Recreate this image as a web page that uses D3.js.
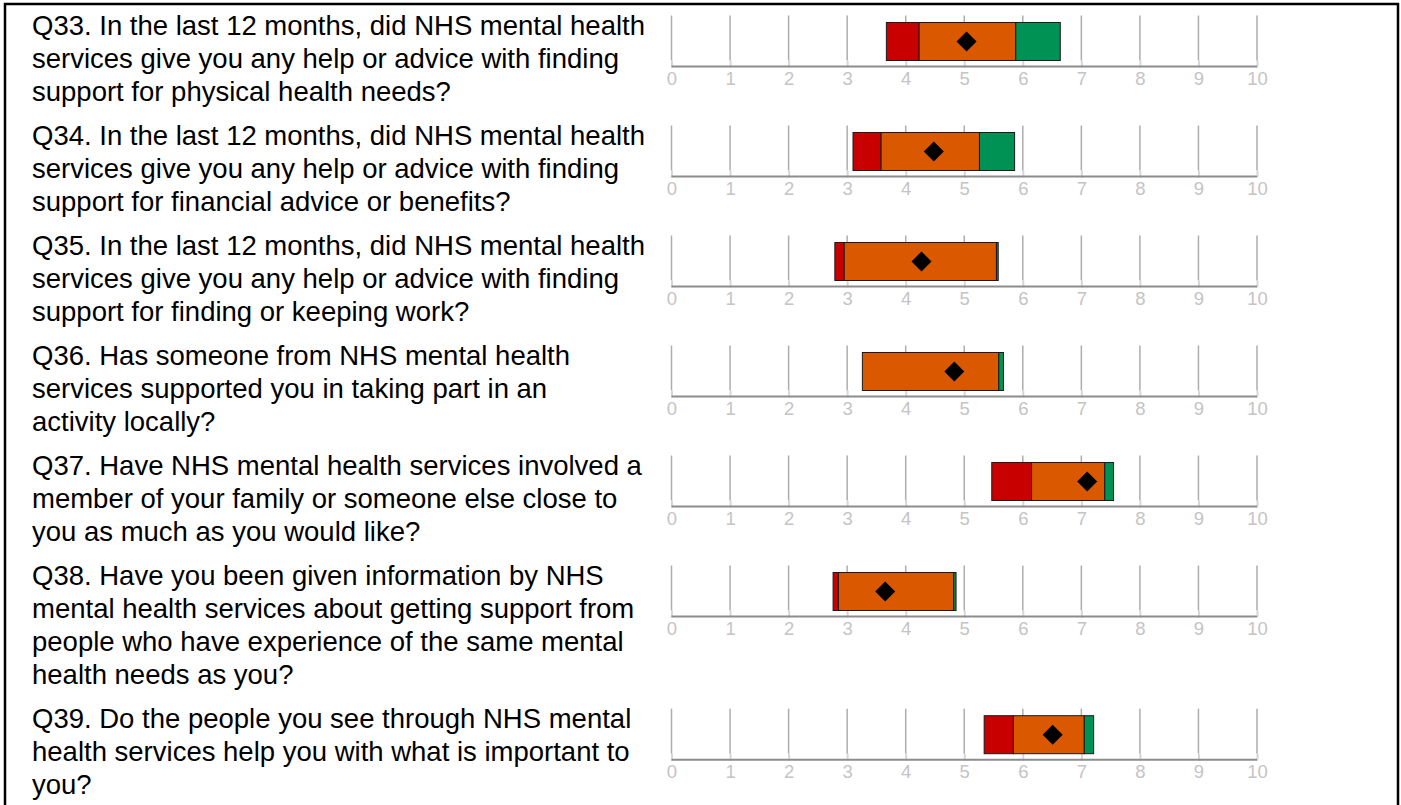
<!DOCTYPE html>
<html>
<head>
<meta charset="utf-8">
<script src="https://cdn.jsdelivr.net/npm/d3@7"></script>
<style>
  body { margin: 0; background: #fff; }
  svg text { font-family: "Liberation Sans", Arial, sans-serif; }
</style>
</head>
<body>
<div id="main-chart"></div>
<script>
// question text, one entry per row (already wrapped like the original)
var questions = [
  ["Q33. In the last 12 months, did NHS mental health", "services give you any help or advice with finding", "support for physical health needs?"],
  ["Q34. In the last 12 months, did NHS mental health", "services give you any help or advice with finding", "support for financial advice or benefits?"],
  ["Q35. In the last 12 months, did NHS mental health", "services give you any help or advice with finding", "support for finding or keeping work?"],
  ["Q36. Has someone from NHS mental health", "services supported you in taking part in an", "activity locally?"],
  ["Q37. Have NHS mental health services involved a", "member of your family or someone else close to", "you as much as you would like?"],
  ["Q38. Have you been given information by NHS", "mental health services about getting support from", "people who have experience of the same mental", "health needs as you?"],
  ["Q39. Do the people you see through NHS mental", "health services help you with what is important to", "you?"]
];

// band edges on the 0-10 scale
var lowerBound = [3.67, 3.10, 2.79, 3.26, 5.47, 2.76, 5.34];
var worseUpper = [4.23, 3.58, 2.95, 3.26, 6.15, 2.85, 5.84];
var sameUpper  = [5.88, 5.26, 5.55, 5.59, 7.40, 4.82, 7.05];
var upperBound = [6.64, 5.86, 5.58, 5.67, 7.55, 4.86, 7.21];
var scores     = [5.04, 4.48, 4.27, 4.83, 7.10, 3.65, 6.51];

var tickValues = [0, 1, 2, 3, 4, 5, 6, 7, 8, 9, 10];

var lineH = 33.2;
var gap = 10.4;
var W = 1401, H = 805;

var svg = d3.select("#main-chart")
  .append("svg")
    .attr("width", W)
    .attr("height", H);

// frame
svg.append("rect")
    .attr("x", 5)
    .attr("y", 4)
    .attr("width", 1393)
    .attr("height", 820)
    .attr("fill", "none")
    .attr("stroke", "#000")
    .attr("stroke-width", 2.5);

var x = d3.scaleLinear().domain([0, 10]).range([671.5, 1257]);

// row tops
var tops = [];
var t = 0;
questions.forEach(function(q) {
  tops.push(t);
  t += q.length * lineH + gap;
});

var rows = svg.selectAll("g.row")
  .data(questions.map(function(q, i) { return {q: q, i: i}; }))
  .enter().append("g")
    .attr("class", "row")
    .attr("transform", function(d) { return "translate(0," + tops[d.i] + ")"; });

// question text
rows.append("text")
    .attr("y", 34.5)
    .style("font-size", "27.5px")
    .attr("fill", "#000")
  .selectAll("tspan")
  .data(function(d) { return d.q; })
  .enter().append("tspan")
    .attr("x", 32)
    .attr("dy", function(d, j) { return j === 0 ? 0 : lineH; })
    .text(function(d) { return d; });

var axisY = 66.5;

// grid lines
rows.selectAll("line.grid")
  .data(tickValues)
  .enter().append("line")
    .attr("class", "grid")
    .attr("x1", function(d) { return x(d); })
    .attr("x2", function(d) { return x(d); })
    .attr("y1", axisY - 51)
    .attr("y2", axisY - 6)
    .attr("stroke", "#adadad")
    .attr("stroke-width", 1.5);

// axis with light stubs
rows.append("g")
    .attr("transform", "translate(0," + axisY + ")")
    .each(function() {
      var g = d3.select(this);
      g.call(d3.axisBottom(x).tickValues(tickValues).tickSize(0));
      g.select(".domain").remove();
      g.selectAll(".tick text")
        .attr("y", 18.5)
        .attr("dy", null)
        .style("font-size", "18.5px")
        .style("font-family", "'Liberation Sans', Arial, sans-serif")
        .style("fill", "#c4c4c4");
      g.selectAll(".tick").append("line")
        .attr("y1", -6).attr("y2", 1)
        .attr("stroke", "#d6d6d6").attr("stroke-width", 2);
    });

rows.append("line")
    .attr("x1", x(0))
    .attr("x2", x(10))
    .attr("y1", axisY)
    .attr("y2", axisY)
    .attr("stroke", "#8c8c8c")
    .attr("stroke-width", 2);

// bands
var bands = [
  {from: lowerBound, to: worseUpper, color: "#c80000"},
  {from: worseUpper, to: sameUpper, color: "#da5800"},
  {from: sameUpper, to: upperBound, color: "#009155"}
];

bands.forEach(function(b) {
  rows.append("rect")
      .attr("x", function(d) { return x(b.from[d.i]); })
      .attr("width", function(d) { return x(b.to[d.i]) - x(b.from[d.i]); })
      .attr("y", axisY - 44)
      .attr("height", 38)
      .attr("fill", b.color)
      .attr("stroke", "#1a1a1a")
      .attr("stroke-width", 1);
});

// score diamond
rows.append("path")
    .attr("d", d3.symbol().type(d3.symbolSquare).size(200))
    .attr("transform", function(d) {
      return "translate(" + x(scores[d.i]) + "," + (axisY - 25) + ") rotate(45)";
    })
    .attr("fill", "#000");
</script>
</body>
</html>
